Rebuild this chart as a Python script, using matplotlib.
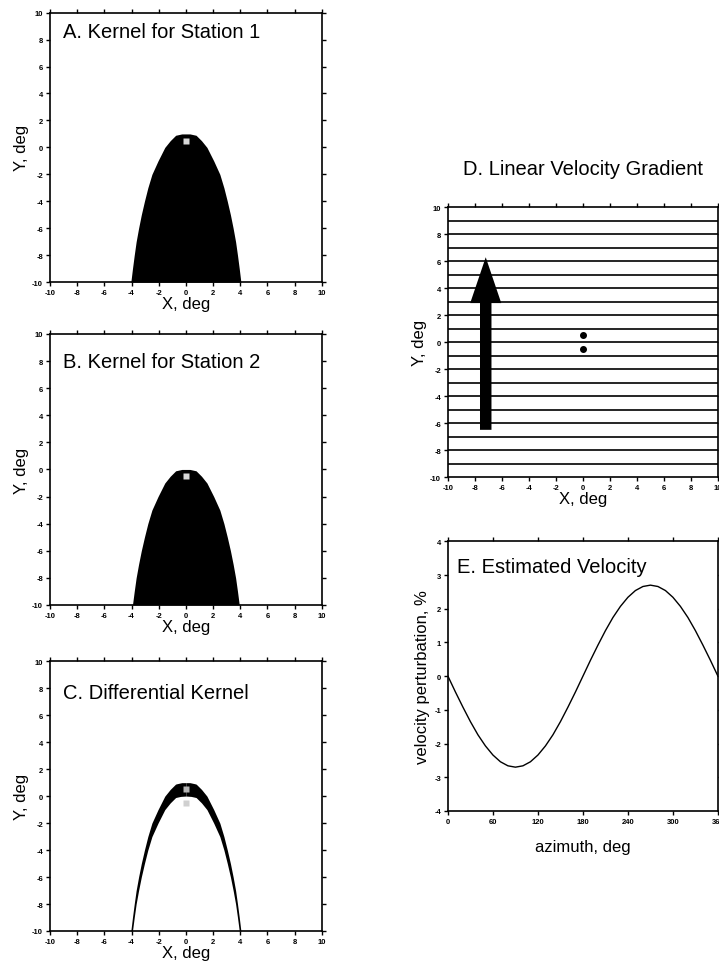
import matplotlib.pyplot as plt
import numpy as np
from matplotlib.patches import FancyArrow

plt.rcParams['font.family'] = ['Liberation Sans', 'DejaVu Sans']
plt.rcParams['axes.unicode_minus'] = False

# kernel outline for station 1: depth (Y) vs half width (X), deg
kern_y = [1.0, 0.9, 0.5, 0.0, -0.5, -1.0, -2.0, -3.0, -4.0, -5.0, -6.0, -7.0, -8.0, -9.0, -10.0]
kern_w = [0.3, 0.75, 1.15, 1.55, 1.8, 2.05, 2.5, 2.8, 3.05, 3.28, 3.48, 3.66, 3.8, 3.93, 4.05]
# station 2 kernel is the same outline moved 1 deg south
kern2_y = [0.0, -0.1, -0.5, -1.0, -1.5, -2.0, -3.0, -4.0, -5.0, -6.0, -7.0, -8.0, -9.0, -10.0]
kern2_w = [0.3, 0.75, 1.15, 1.55, 1.8, 2.05, 2.5, 2.8, 3.05, 3.28, 3.48, 3.66, 3.8, 3.93]

sta_x = [0.0, 0.0]
sta_y = [0.5, -0.5]

# velocity gradient panel
grad_lines = [-9, -8, -7, -6, -5, -4, -3, -2, -1, 0, 1, 2, 3, 4, 5, 6, 7, 8, 9]
arrow_x, arrow_y0, arrow_y1 = -7.2, -6.5, 6.3

# estimated velocity vs azimuth
azimuth = [0, 10, 20, 30, 40, 50, 60, 70, 80, 90, 100, 110, 120, 130, 140, 150, 160, 170,
           180, 190, 200, 210, 220, 230, 240, 250, 260, 270, 280, 290, 300, 310, 320, 330,
           340, 350, 360]
vel_pert = [0.0, -0.47, -0.92, -1.35, -1.74, -2.07, -2.34, -2.54, -2.66, -2.70, -2.66, -2.54,
            -2.34, -2.07, -1.74, -1.35, -0.92, -0.47, 0.0, 0.47, 0.92, 1.35, 1.74, 2.07, 2.34,
            2.54, 2.66, 2.70, 2.66, 2.54, 2.34, 2.07, 1.74, 1.35, 0.92, 0.47, 0.0]

deg_ticks = [-10, -8, -6, -4, -2, 0, 2, 4, 6, 8, 10]

fig = plt.figure(figsize=(7.19, 9.70), dpi=100)


def style_axes(ax):
    for s in ax.spines.values():
        s.set_linewidth(1.2)
    ax.tick_params(direction='out', length=3, width=1, labelsize=5.5,
                   top=True, right=True, pad=2)
    for lab in ax.get_xticklabels() + ax.get_yticklabels():
        lab.set_fontweight('bold')


def deg_axes(rect):
    ax = fig.add_axes(rect)
    ax.set_xlim(-10, 10)
    ax.set_ylim(-10, 10)
    ax.set_xticks(deg_ticks)
    ax.set_yticks(deg_ticks)
    style_axes(ax)
    ax.set_xlabel('X, deg', fontsize=12, labelpad=0)
    ax.set_ylabel('Y, deg', fontsize=12, labelpad=2)
    return ax


def interp_w(y_new, ys, ws):
    return np.interp(y_new, ys[::-1], ws[::-1], left=0, right=0)


# A
axA = deg_axes([0.0695, 0.708, 0.378, 0.278])
axA.fill_betweenx(kern_y, np.negative(kern_w), kern_w, color='black', lw=0)
axA.plot(sta_x[0], sta_y[0], 's', color='#d8d8d8', ms=4, mec='none')
axA.text(0.048, 0.93, 'A. Kernel for Station 1', transform=axA.transAxes,
         fontsize=14.5, va='center')

# B
axB = deg_axes([0.0695, 0.3753, 0.378, 0.2794])
axB.fill_betweenx(kern2_y, np.negative(kern2_w), kern2_w, color='black', lw=0)
axB.plot(sta_x[1], sta_y[1], 's', color='#d8d8d8', ms=4, mec='none')
axB.text(0.048, 0.90, 'B. Kernel for Station 2', transform=axB.transAxes,
         fontsize=14.5, va='center')

# C: difference of the two kernels
axC = deg_axes([0.0695, 0.0392, 0.378, 0.278])
yy = np.linspace(-10, 1, 400)
wa = interp_w(yy, kern_y, kern_w)
wb = interp_w(yy, kern2_y, kern2_w)
axC.fill_betweenx(yy, -wa, -wb, color='black', lw=0)
axC.fill_betweenx(yy, wb, wa, color='black', lw=0)
axC.plot(sta_x[0], sta_y[0], 's', color='#b4b4b4', ms=4, mec='none')
axC.plot(sta_x[1], sta_y[1], 's', color='#d0d0d0', ms=4, mec='none')
axC.text(0.048, 0.885, 'C. Differential Kernel', transform=axC.transAxes,
         fontsize=14.5, va='center')

# D
axD = deg_axes([0.623, 0.5072, 0.3755, 0.278])
for g in grad_lines:
    axD.axhline(g, color='black', lw=1.2)
axD.add_patch(FancyArrow(arrow_x, arrow_y0, 0, arrow_y1 - arrow_y0, width=0.85,
                         head_width=2.3, head_length=3.4, length_includes_head=True,
                         color='black', lw=0))
axD.plot(sta_x, sta_y, 'o', color='black', ms=4)
axD.set_title('D. Linear Velocity Gradient', fontsize=14.5, pad=24)

# E
axE = fig.add_axes([0.623, 0.1629, 0.3755, 0.278])
axE.plot(azimuth, vel_pert, color='black', lw=1)
axE.set_xlim(0, 360)
axE.set_ylim(-4, 4)
axE.set_xticks([0, 60, 120, 180, 240, 300, 360])
axE.set_yticks([-4, -3, -2, -1, 0, 1, 2, 3, 4])
style_axes(axE)
axE.set_xlabel('azimuth, deg', fontsize=12, labelpad=10)
axE.set_ylabel('velocity perturbation, %', fontsize=12, labelpad=3)
axE.text(0.033, 0.907, 'E. Estimated Velocity', transform=axE.transAxes,
         fontsize=14.5, va='center')

fig.savefig('out.png', dpi=100)
